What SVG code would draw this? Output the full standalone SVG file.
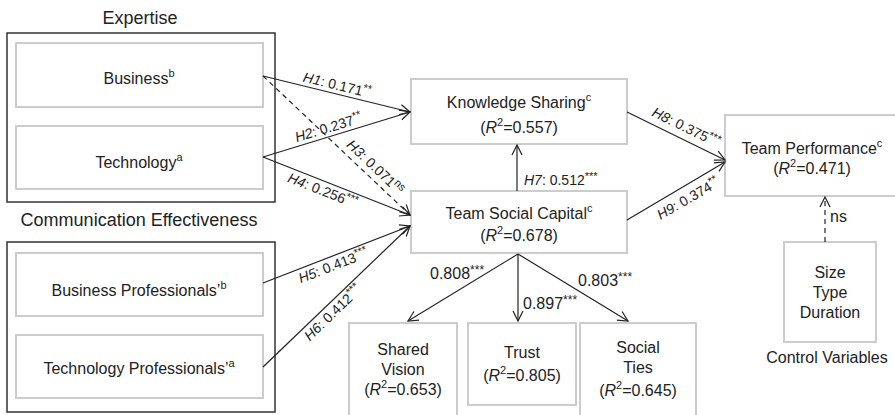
<svg xmlns="http://www.w3.org/2000/svg" width="895" height="415" viewBox="0 0 895 415">
<defs>
<style>
text{font-family:"Liberation Sans",Arial,sans-serif;fill:#222}
.hd{font-size:18px;text-anchor:middle}
.nd{font-size:16px;text-anchor:middle}
.lb{font-size:14px}
.lc{font-size:14px;text-anchor:middle}
.cf{font-size:16px}
.sup{font-size:11px}
.st{font-size:11px}
.st2{font-size:12px}
.it{font-style:italic}
.outer{fill:none;stroke:#333;stroke-width:1.5}
.box{fill:#fff;stroke:#ccc;stroke-width:2}
.e{fill:none;stroke:#222;stroke-width:1.2;marker-end:url(#ah)}
.d{stroke-dasharray:5,4}
</style>
<marker id="ah" viewBox="0 0 12 12" refX="11" refY="6" markerWidth="12" markerHeight="12" markerUnits="userSpaceOnUse" orient="auto">
<path d="M1,1 L11,6 L1,11" fill="none" stroke="#222" stroke-width="1.2"/>
</marker>
</defs>
<rect width="895" height="415" fill="#fff"/>

<g id="expertise">
<text class="hd" x="140" y="24">Expertise</text>
<rect class="outer" x="7" y="33" width="268" height="169"/>
<g id="business">
<rect class="box" x="16" y="43" width="247" height="64"/>
<text class="nd" x="139" y="84">Business<tspan class="sup" dy="-7">b</tspan></text>
</g>
<g id="technology">
<rect class="box" x="16" y="126" width="247" height="63"/>
<text class="nd" x="139" y="168">Technology<tspan class="sup" dy="-7">a</tspan></text>
</g>
</g>

<g id="communication">
<text class="hd" x="139" y="226">Communication Effectiveness</text>
<rect class="outer" x="7" y="242" width="268" height="170"/>
<g id="bizprof">
<rect class="box" x="16" y="253" width="247" height="63"/>
<text class="nd" x="139" y="296">Business Professionals’<tspan class="sup" dy="-7">b</tspan></text>
</g>
<g id="techprof">
<rect class="box" x="16" y="335" width="247" height="63"/>
<text class="nd" x="139" y="374">Technology Professionals’<tspan class="sup" dy="-7">a</tspan></text>
</g>
</g>

<g id="ks">
<rect class="box" x="411" y="79" width="216" height="65"/>
<text class="nd" x="519" y="108">Knowledge Sharing<tspan class="sup" dy="-7">c</tspan></text>
<text class="nd" x="519" y="133">(<tspan class="it">R</tspan><tspan class="sup" dy="-7">2</tspan><tspan dy="7">=0.557)</tspan></text>
</g>

<g id="tsc">
<rect class="box" x="411" y="191" width="216" height="62"/>
<text class="nd" x="519" y="219">Team Social Capital<tspan class="sup" dy="-7">c</tspan></text>
<text class="nd" x="519" y="241">(<tspan class="it">R</tspan><tspan class="sup" dy="-7">2</tspan><tspan dy="7">=0.678)</tspan></text>
</g>

<g id="tp">
<rect class="box" x="725" y="115" width="175" height="81"/>
<text class="nd" x="812" y="154">Team Performance<tspan class="sup" dy="-7">c</tspan></text>
<text class="nd" x="812" y="174">(<tspan class="it">R</tspan><tspan class="sup" dy="-7">2</tspan><tspan dy="7">=0.471)</tspan></text>
</g>

<g id="control">
<rect class="box" x="784" y="242" width="92" height="100"/>
<text class="nd" x="830" y="278">Size</text>
<text class="nd" x="830" y="298">Type</text>
<text class="nd" x="830" y="318">Duration</text>
<text class="nd" x="827" y="363">Control Variables</text>
</g>

<g id="sv">
<rect class="box" x="349" y="323" width="108" height="100"/>
<text class="nd" x="403" y="355">Shared</text>
<text class="nd" x="403" y="375">Vision</text>
<text class="nd" x="403" y="395">(<tspan class="it">R</tspan><tspan class="sup" dy="-7">2</tspan><tspan dy="7">=0.653)</tspan></text>
</g>

<g id="trust">
<rect class="box" x="468" y="323" width="108" height="82"/>
<text class="nd" x="522" y="358">Trust</text>
<text class="nd" x="522" y="381">(<tspan class="it">R</tspan><tspan class="sup" dy="-7">2</tspan><tspan dy="7">=0.805)</tspan></text>
</g>

<g id="ties">
<rect class="box" x="580" y="323" width="116" height="100"/>
<text class="nd" x="638" y="353">Social</text>
<text class="nd" x="638" y="373">Ties</text>
<text class="nd" x="638" y="396">(<tspan class="it">R</tspan><tspan class="sup" dy="-7">2</tspan><tspan dy="7">=0.645)</tspan></text>
</g>

<g id="connectors">
<line class="e" x1="263" y1="76" x2="410" y2="112"/>
<line class="e" x1="263" y1="157" x2="410" y2="112"/>
<line class="e d" x1="263" y1="76" x2="410" y2="215"/>
<line class="e" x1="263" y1="157" x2="410" y2="215"/>
<line class="e" x1="263" y1="283" x2="410" y2="226"/>
<line class="e" x1="263" y1="367" x2="410" y2="226"/>
<line class="e" x1="517" y1="191" x2="517" y2="145"/>
<line class="e" x1="627" y1="112" x2="725" y2="160"/>
<line class="e" x1="627" y1="220" x2="725" y2="162"/>
<line class="e d" x1="825" y1="242" x2="825" y2="197"/>
<line class="e" x1="518" y1="254" x2="408" y2="321"/>
<line class="e" x1="518" y1="254" x2="518" y2="321"/>
<line class="e" x1="518" y1="254" x2="628" y2="321"/>

<text class="lc" transform="translate(335,93.6) rotate(13.8)" dy="-4"><tspan class="it">H1</tspan>: 0.171<tspan class="st" dy="-5">**</tspan></text>
<text class="lc" transform="translate(331,136) rotate(-17)" dy="-4"><tspan class="it">H2</tspan>: 0.237<tspan class="st" dy="-5">**</tspan></text>
<text class="lc" transform="translate(368,175) rotate(43.4)" dy="-6"><tspan class="it">H3</tspan>: 0.071<tspan class="st" dy="-5">ns</tspan></text>
<text class="lc" transform="translate(326,182) rotate(21.5)" dy="14"><tspan class="it">H4</tspan>: 0.256<tspan class="st" dy="-5">***</tspan></text>
<text class="lc" transform="translate(330,257) rotate(-21.2)" dy="14"><tspan class="it">H5</tspan>: 0.413<tspan class="st" dy="-5">***</tspan></text>
<text class="lc" transform="translate(326.5,306) rotate(-43.8)" dy="14"><tspan class="it">H6</tspan>: 0.412<tspan class="st" dy="-5">***</tspan></text>
<text class="lb" x="524" y="185"><tspan class="it">H7</tspan>: 0.512<tspan class="st" dy="-5">***</tspan></text>
<text class="lc" transform="translate(681,138) rotate(26)" dy="-7"><tspan class="it">H8</tspan>: 0.375<tspan class="st" dy="-5">***</tspan></text>
<text class="lc" transform="translate(682,188) rotate(-30.2)" dy="17"><tspan class="it">H9</tspan>: 0.374<tspan class="st" dy="-5">**</tspan></text>
<text class="cf" x="830" y="222">ns</text>
<text class="cf" x="430" y="279">0.808<tspan class="st2" dy="-5">***</tspan></text>
<text class="cf" x="523" y="309">0.897<tspan class="st2" dy="-5">***</tspan></text>
<text class="cf" x="578" y="286">0.803<tspan class="st2" dy="-5">***</tspan></text>
</g>
</svg>
